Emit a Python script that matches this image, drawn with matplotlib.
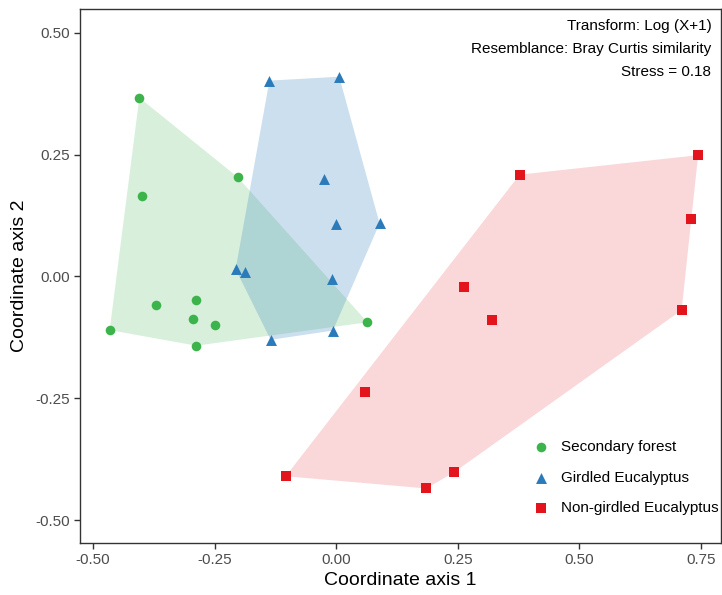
import numpy as np
import matplotlib.pyplot as plt

plt.rcParams['font.family'] = ['Liberation Sans', 'DejaVu Sans']

# nMDS coordinates
sf_x = [-0.405, -0.203, -0.399, -0.370, -0.289, -0.294, -0.249, -0.466, -0.288, 0.064]
sf_y = [0.367, 0.204, 0.166, -0.058, -0.048, -0.087, -0.100, -0.110, -0.142, -0.094]

ge_x = [-0.1375, 0.006, -0.025, 0.000, 0.089, -0.207, -0.187, -0.009, -0.007, -0.135]
ge_y = [0.402, 0.410, 0.200, 0.108, 0.109, 0.015, 0.009, -0.006, -0.111, -0.130]

ne_x = [0.377, 0.744, 0.729, 0.710, 0.263, 0.321, 0.060, -0.104, 0.242, 0.185]
ne_y = [0.209, 0.249, 0.117, -0.069, -0.021, -0.089, -0.237, -0.410, -0.402, -0.435]

groups = ["Secondary forest", "Girdled Eucalyptus", "Non-girdled Eucalyptus"]
colors = ["#3cb44b", "#2b7bba", "#e3141b"]
markers = ["o", "^", "s"]
sizes = [48, 62, 42]


def convex_hull(xs, ys):
    pts = sorted(set(zip(xs, ys)))

    def cross(o, a, b):
        return (a[0] - o[0]) * (b[1] - o[1]) - (a[1] - o[1]) * (b[0] - o[0])

    lower = []
    for p in pts:
        while len(lower) >= 2 and cross(lower[-2], lower[-1], p) <= 0:
            lower.pop()
        lower.append(p)
    upper = []
    for p in reversed(pts):
        while len(upper) >= 2 and cross(upper[-2], upper[-1], p) <= 0:
            upper.pop()
        upper.append(p)
    return np.array(lower[:-1] + upper[:-1])


fig = plt.figure(figsize=(7.22, 5.95), dpi=100)
ax = fig.add_axes([80 / 722, 1 - 543 / 595, 641 / 722, 534 / 595])

data = [(sf_x, sf_y), (ge_x, ge_y), (ne_x, ne_y)]
fills = [0.20, 0.24, 0.17]
for (xs, ys), c, a in zip(data, colors, fills):
    h = convex_hull(xs, ys)
    ax.fill(h[:, 0], h[:, 1], color=c, alpha=a, lw=0, zorder=1)

for (xs, ys), c, m, s, lab in zip(data, colors, markers, sizes, groups):
    ax.scatter(xs, ys, color=c, marker=m, s=s, lw=0, label=lab, zorder=3)

ax.set_xlim(-0.527, 0.791)
ax.set_ylim(-0.547, 0.549)
ax.set_xticks([-0.5, -0.25, 0, 0.25, 0.5, 0.75])
ax.set_yticks([-0.5, -0.25, 0, 0.25, 0.5])
ax.xaxis.set_major_formatter(plt.FormatStrFormatter('%.2f'))
ax.yaxis.set_major_formatter(plt.FormatStrFormatter('%.2f'))
ax.tick_params(labelsize=11, labelcolor="#4d4d4d", color="#333333", length=4, width=1)
ax.tick_params(axis="x", pad=3)
for sp in ax.spines.values():
    sp.set_color("#333333")
    sp.set_linewidth(1)

ax.set_xlabel("Coordinate axis 1", fontsize=14, labelpad=4)
ax.set_ylabel("Coordinate axis 2", fontsize=14, labelpad=5)

ax.text(0.985, 0.981, "Transform: Log (X+1)\nResemblance: Bray Curtis similarity\nStress = 0.18",
        transform=ax.transAxes, ha="right", va="top", fontsize=11, linespacing=1.8)

leg = ax.legend(loc="lower right", bbox_to_anchor=(1.018, 0.026), frameon=False, fontsize=11,
                handletextpad=0.3, labelspacing=1.1, scatterpoints=1, markerscale=1.0)

fig.savefig("out.png", dpi=100)
